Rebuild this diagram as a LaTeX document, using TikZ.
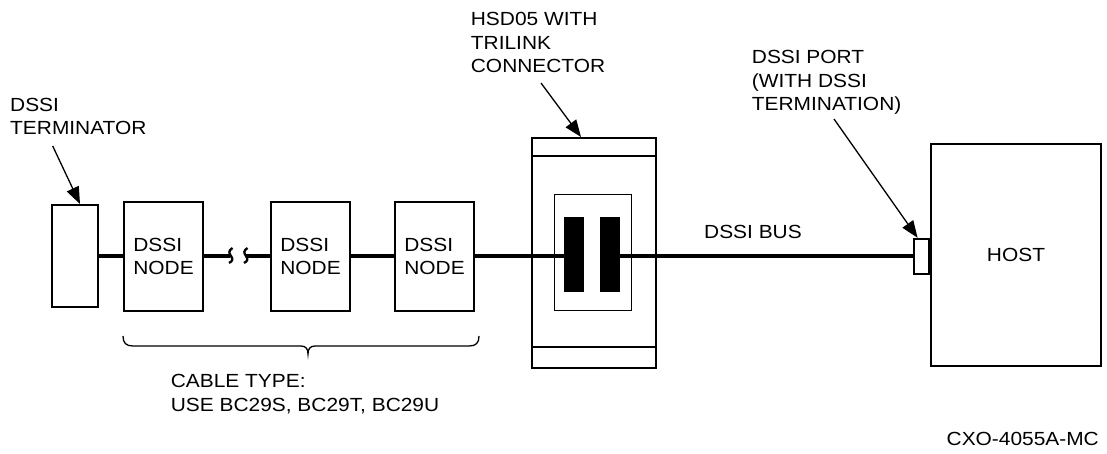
\documentclass[tikz,border=0pt]{standalone}
\usepackage{fontspec}
\setmainfont{Liberation Sans}[FakeStretch=1.1]
\usetikzlibrary{arrows.meta,calc}
\begin{document}
\begin{tikzpicture}[x=1pt,y=-1pt,
  box/.style={draw,line width=2.4pt,inner sep=0pt,font=\fontsize{19}{23.5}\selectfont,align=left},
  thinbox/.style={draw,line width=1.3pt,inner sep=0pt},
  barbox/.style={fill=black,inner sep=0pt,minimum width=20pt,minimum height=75pt},
  lbl/.style={font=\fontsize{19}{23.5}\selectfont,inner sep=0pt,align=left,anchor=base west},
  bus/.style={line width=4.6pt},
  squig/.style={line width=2.3pt},
  ptr/.style={line width=1.3pt,-{Triangle[length=17pt,width=13pt]}},
  thinline/.style={line width=1.3pt}]
\useasboundingbox (0,0) rectangle (1107,454);

% boxes
\node[box,minimum width=45.6pt,minimum height=101.6pt] (term) at (75,256) {};
\node[box,minimum width=78.6pt,minimum height=108.6pt] (n1) at (163.5,256.5) {DSSI\\NODE};
\node[box,minimum width=78.6pt,minimum height=108.6pt] (n2) at (310.5,256.5) {DSSI\\NODE};
\node[box,minimum width=78.6pt,minimum height=108.6pt] (n3) at (434.5,256.5) {DSSI\\NODE};

\node[box,minimum width=123.6pt,minimum height=229.6pt] (tri) at (594,253) {};
\draw[thinline] ($(tri.north west)+(0,19)$) -- ($(tri.north east)+(0,19)$);
\draw[thinline] ($(tri.south west)+(0,-22)$) -- ($(tri.south east)+(0,-22)$);
\node[thinbox,minimum width=77pt,minimum height=116pt] (inner) at (593,252.5) {};
\node[barbox] (bar1) at (574,254.5) {};
\node[barbox] (bar2) at (610,254.5) {};

\node[box,minimum width=169.6pt,minimum height=221.6pt] (host) at (1016,255) {HOST};
\node[box,minimum width=15.5pt,minimum height=35pt] (port) at (921.6,256.5) {};

% bus
\coordinate (brkL) at (230,256);
\coordinate (brkR) at (246,256);
\draw[bus] (term.east |- brkR) -- (n1.west |- brkR);
\draw[bus] (n1.east |- brkL) -- (brkL);
\draw[bus] (brkR) -- (n2.west |- brkR);
\draw[bus] (n2.east |- brkR) -- (n3.west |- brkR);
\draw[bus] (n3.east |- brkR) -- (bar1.west |- brkR);
\draw[bus] (bar2.east |- brkR) -- (port.west |- brkR);
\draw[squig] (232.5,248) .. controls (228,251) and (229,253) .. (231,256) .. controls (233,259) and (233,261) .. (229,263);
\draw[squig] (247.5,248) .. controls (243,251) and (244,253) .. (246,256) .. controls (248,259) and (248,261) .. (244,263);

% labels (anchor = baseline of the last line)
\node[lbl] (tTerm) at (10,135) {DSSI\\TERMINATOR};
\node[lbl] (tHsd) at (470.7,73) {HSD05 WITH\\TRILINK\\CONNECTOR};
\node[lbl] (tPort) at (751.7,111) {DSSI PORT\\(WITH DSSI\\TERMINATION)};
\node[lbl] (tBus) at (704,238) {DSSI BUS};
\node[lbl] (tCable) at (170.7,411) {CABLE TYPE:\\USE BC29S, BC29T, BC29U};
\node[lbl,anchor=base east] (tFig) at (1099,445) {CXO-4055A-MC};

% pointers
\coordinate (aT) at (52.7,146);
\coordinate (aH) at (541,83);
\coordinate (aP) at (834,119);
\draw[ptr] (aT) -- ($(term.north)+(5,0)$);
\draw[ptr] (aH) -- ($(tri.north)+(-13,0)$);
\draw[ptr] (aP) -- ($(port.north)+(-4,0)$);

% brace
\coordinate (brL) at (123,336);
\coordinate (brR) at (479,336);
\coordinate (brT) at (308,354);
\draw[thinline] (brL) .. controls ($(brL)+(0,7)$) and ($(brL)+(3,10)$) .. ($(brL)+(10,10)$)
  -- ($(brT)+(-7,-8)$) .. controls ($(brT)+(-2,-8)$) and ($(brT)+(0,-5)$) .. (brT)
  .. controls ($(brT)+(0,-5)$) and ($(brT)+(2,-8)$) .. ($(brT)+(7,-8)$)
  -- ($(brR)+(-10,10)$) .. controls ($(brR)+(-3,10)$) and ($(brR)+(0,7)$) .. (brR);
\end{tikzpicture}
\end{document}
